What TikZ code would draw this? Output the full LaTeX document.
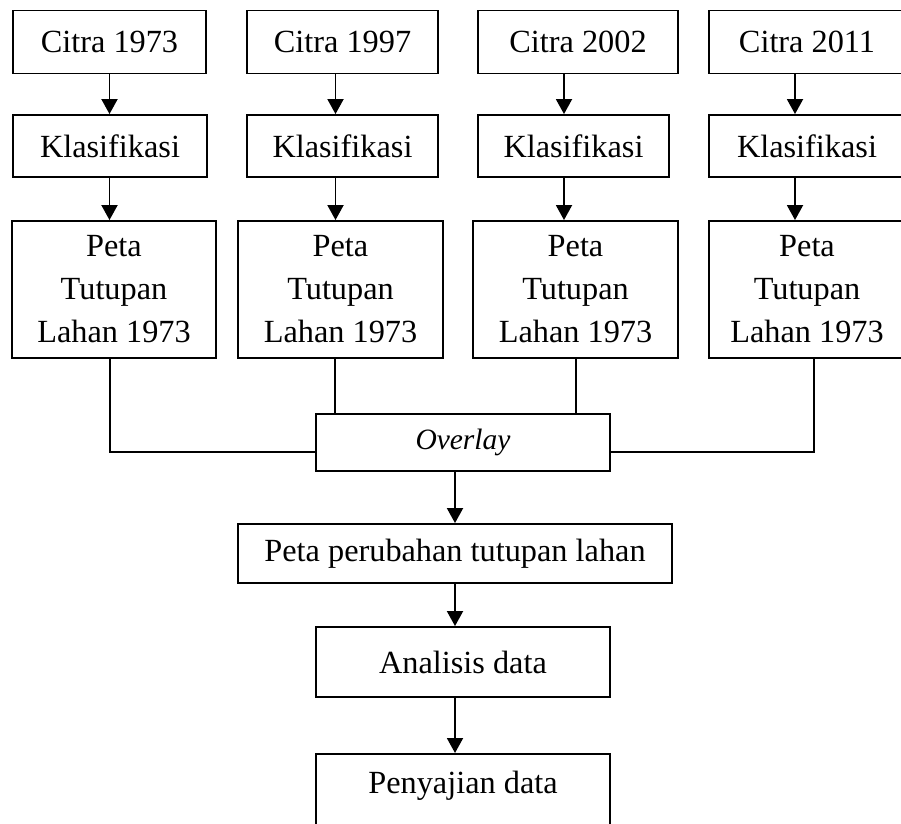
\documentclass[tikz,border=0pt]{standalone}
\usepackage{fontspec}
\setmainfont{Liberation Serif}
\usetikzlibrary{arrows.meta, calc}
\tikzset{
  every picture/.style={line width=1.9pt},
  box/.style={draw, align=center, inner sep=0pt, font=\fontsize{32.3}{43}\selectfont},
  arrow/.style={-{Triangle[length=15pt, width=16pt]}},
}

\begin{document}
\begin{tikzpicture}[x=1pt, y=-1pt]
  \useasboundingbox (0,0) rectangle (901,823);
  % images
  \foreach \i/\x/\w/\yr in {1/109.5/193/1973, 2/342.5/191/1997, 3/578/200/2002, 4/807/196/2011}
    { \node[box, minimum width=\w pt, minimum height=63pt] (c\i) at (\x,42) {Citra \yr}; }
  % classification
  \foreach \i/\x/\w in {1/110/194, 2/342.5/191, 3/573.5/191, 4/807/196}
    { \node[box, minimum width=\w pt, minimum height=62pt] (k\i) at (\x,146) {Klasifikasi}; }
  % land cover maps
  \foreach \i/\x/\w in {1/114/204, 2/340.5/205, 3/575.5/205, 4/807/196}
    { \node[box, minimum width=\w pt, minimum height=137pt] (p\i) at (\x,289.5) {Peta\\Tutupan\\Lahan 1973}; }
  \foreach \i/\dx in {1/0, 2/-7, 3/-14, 4/-12} {
    \coordinate (a\i) at ($(c\i.south)+(\dx,0)$);
    \draw[arrow] (a\i) -- (a\i |- k\i.north);
    \draw[arrow] (k\i.south -| a\i) -- (a\i |- p\i.north);
  }
  % overlay and the steps after it
  \node[box, minimum width=294pt, minimum height=57pt, font=\fontsize{29.5}{34}\selectfont\itshape] (ov) at (463,442.5) {Overlay};
  \node[box, minimum width=434pt, minimum height=59pt] (pp) at (455,553.5) {Peta perubahan tutupan lahan};
  \node[box, minimum width=294pt, minimum height=70pt] (an) at (463,662) {Analisis data};
  \node[box, minimum width=294pt, text height=40pt, text depth=60pt, anchor=north] (pen) at (463,753) {Penyajian data};
  % lines into overlay
  \coordinate (l1) at ($(p1.south)+(-4,0)$);
  \coordinate (l2) at ($(p2.south)+(-5.5,0)$);
  \coordinate (l3) at ($(p3.south)+(0.5,0)$);
  \coordinate (l4) at ($(p4.south)+(7,0)$);
  \draw (l1) |- ($(ov.west)+(0,9.5)$);
  \draw (l2) -- (l2 |- ov.north);
  \draw (l3) -- (l3 |- ov.north);
  \draw (l4) |- ($(ov.east)+(0,9.5)$);
  \draw[arrow] ($(ov.south)+(-8,0)$) -- (pp.north);
  \draw[arrow] (pp.south) -- ($(an.north)+(-8,0)$);
  \draw[arrow] ($(an.south)+(-8,0)$) -- ($(pen.north)+(-8,0)$);
\end{tikzpicture}
\end{document}
